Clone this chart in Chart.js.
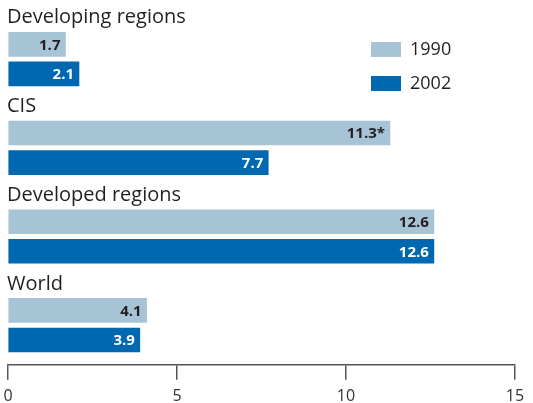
<!DOCTYPE html>
<html>
<head>
<meta charset="utf-8">
<script src="https://cdn.jsdelivr.net/npm/chart.js@4"></script>
<style>
	html, body { margin: 0; padding: 0; background: #fff; }
	canvas { display: block; }
</style>
</head>
<body>
<canvas id="chart" width="533" height="403"></canvas>
<script>
let regions = ['Developing regions', 'CIS', 'Developed regions', 'World'];
let values1990 = [1.7, 11.3, 12.6, 4.1];
let values2002 = [2.1, 7.7, 12.6, 3.9];
let labels1990 = ['1.7', '11.3*', '12.6', '4.1'];
let labels2002 = ['2.1', '7.7', '12.6', '3.9'];
let xTicks = [0, 5, 10, 15];

const FONT = '"Open Sans", "Noto Sans", sans-serif';
const TEXT = '#231f20';

// every region takes three rows: the name, then the 1990 bar, then the 2002 bar
const toRows = (values, offset) => values.map((v, i) => ({ x: v, y: i * 3 + offset }));

const annotate = {
	id: 'annotate',
	afterDatasetsDraw(chart) {
		const ctx = chart.ctx;
		const yScale = chart.scales.y;
		const area = chart.chartArea;
		ctx.save();
		ctx.textBaseline = 'middle';

		// region names above each pair of bars
		ctx.font = '20px ' + FONT;
		ctx.fillStyle = TEXT;
		ctx.textAlign = 'left';
		regions.forEach((name, i) => {
			ctx.fillText(name, area.left - 1, yScale.getPixelForValue(i * 3) + 3);
		});

		// value labels inside the bar ends
		ctx.font = 'bold 15px ' + FONT;
		ctx.textAlign = 'right';
		chart.data.datasets.forEach((ds, d) => {
			chart.getDatasetMeta(d).data.forEach((bar, i) => {
				ctx.fillStyle = ds.textColor;
				ctx.fillText(ds.valueLabels[i], bar.x - 5, bar.y + 1);
			});
		});

		// legend, top right
		ctx.font = '18px ' + FONT;
		ctx.textAlign = 'left';
		chart.data.datasets.forEach((ds, d) => {
			let top = area.top + 42 + d * 34;
			ctx.fillStyle = ds.backgroundColor;
			ctx.fillRect(371, top, 30, 15);
			ctx.fillStyle = TEXT;
			ctx.fillText(ds.label, 410, top + 8);
		});
		ctx.restore();
	}
};

new Chart(document.getElementById('chart'), {
	type: 'bar',
	data: {
		datasets: [{
			label: '1990',
			data: toRows(values1990, 1),
			valueLabels: labels1990,
			backgroundColor: '#a7c4d6',
			textColor: TEXT
		}, {
			label: '2002',
			data: toRows(values2002, 2),
			valueLabels: labels2002,
			backgroundColor: '#0067b1',
			textColor: '#ffffff'
		}]
	},
	options: {
		indexAxis: 'y',
		responsive: false,
		animation: false,
		layout: { padding: { left: 8, right: 18, top: 0, bottom: -10 } },
		datasets: {
			bar: { barThickness: 24, grouped: false, borderWidth: 0 }
		},
		plugins: {
			legend: { display: false },
			tooltip: { enabled: false }
		},
		scales: {
			y: {
				type: 'linear',
				display: false,
				offset: false,
				reverse: true,
				min: -0.5,
				max: 11.84
			},
			x: {
				type: 'linear',
				position: 'bottom',
				min: 0,
				max: 15,
				afterBuildTicks: (scale) => { scale.ticks = xTicks.map((v) => ({ value: v })); },
				// the end labels may hang over the edges, layout padding covers them
				afterFit: (scale) => { scale.paddingLeft = 0; scale.paddingRight = 0; },
				ticks: {
					color: '#333',
					font: { family: FONT, size: 16 },
					padding: 7,
					maxRotation: 0
				},
				grid: {
					drawOnChartArea: false,
					tickLength: 15,
					color: '#555',
					lineWidth: 1.5
				},
				border: { color: '#555', width: 1.5 }
			}
		}
	},
	plugins: [annotate]
});
</script>
</body>
</html>
